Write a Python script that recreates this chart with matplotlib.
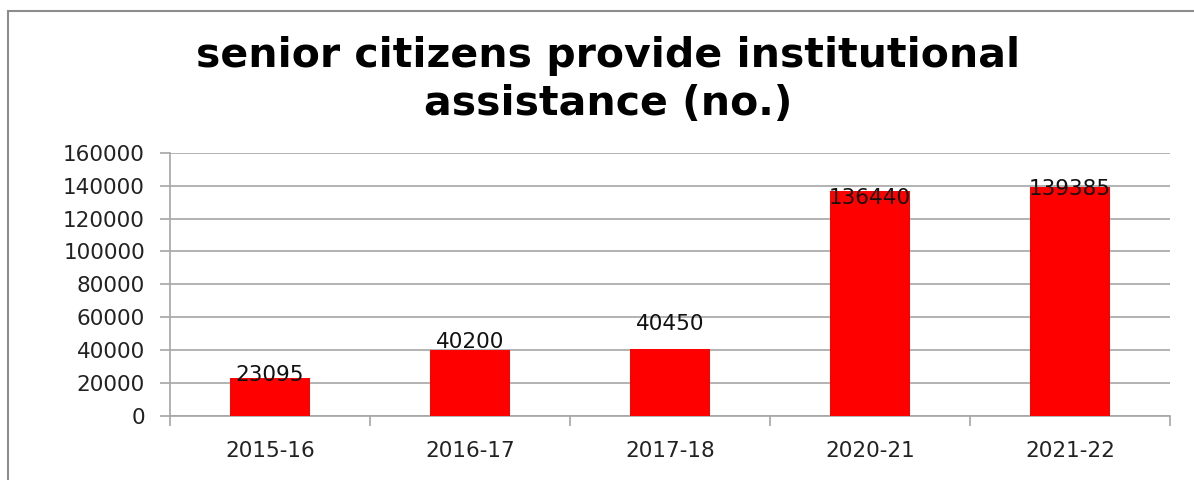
import matplotlib.pyplot as plt
from matplotlib.patches import Rectangle

# chart data
years = ['2015-16', '2016-17', '2017-18', '2020-21', '2021-22']
seniors = [23095, 40200, 40450, 136440, 139385]
y_ticks = [0, 20000, 40000, 60000, 80000, 100000, 120000, 140000, 160000]

# label nudges (points) - the labels in the source chart are not all placed alike
label_shift = [2, 6, 18, -5, -2]

plt.rcParams['font.family'] = 'DejaVu Sans'

fig = plt.figure(figsize=(11.94, 4.8), dpi=100)
ax = fig.add_axes([170 / 1194, 1 - 416 / 480, 1000 / 1194, (416 - 152.7) / 480])

x = range(len(years))
ax.bar(x, seniors, width=0.4, color='#ff0000', zorder=3)

# value labels around the bar tops
for i, v in enumerate(seniors):
    ax.annotate(str(v), (i, v), xytext=(0, label_shift[i]), textcoords='offset points',
                ha='center', va='center', fontsize=15.5, color='#111111', zorder=4)

ax.set_xlim(-0.5, len(years) - 0.5)
ax.set_ylim(0, 160000)
ax.set_yticks(y_ticks)
ax.set_yticklabels([str(t) for t in y_ticks])
ax.set_xticks(list(x))
ax.set_xticklabels(years)
ax.set_xticks([i - 0.5 for i in range(len(years) + 1)], minor=True)

ax.yaxis.grid(True, color='#a6a6a6', linewidth=1.2, zorder=0)
for side in ['top', 'right']:
    ax.spines[side].set_visible(False)
for side in ['left', 'bottom']:
    ax.spines[side].set_color('#a6a6a6')
    ax.spines[side].set_linewidth(1.2)

ax.tick_params(axis='y', length=7, color='#a6a6a6', width=1.2, labelsize=15.5, pad=11, labelcolor='#222222')
ax.tick_params(axis='x', which='major', length=0, labelsize=15.5, pad=18, labelcolor='#222222')
ax.tick_params(axis='x', which='minor', length=7, color='#a6a6a6', width=1.2)

# two-line title, each line placed on its own baseline
fig.text(0.509, 1 - 67 / 480, 'senior citizens provide institutional',
         ha='center', va='baseline', fontsize=29.5, fontweight='bold')
fig.text(0.509, 1 - 115 / 480, 'assistance (no.)',
         ha='center', va='baseline', fontsize=29.5, fontweight='bold')

# outer chart frame (left and top edges visible)
fig.patches.append(Rectangle((8 / 1194, -0.1), 1.2, 1 - 11 / 480 + 0.1, transform=fig.transFigure,
                             fill=False, edgecolor='#8c8c8c', linewidth=1.5))

fig.savefig('out.png', dpi=100)
